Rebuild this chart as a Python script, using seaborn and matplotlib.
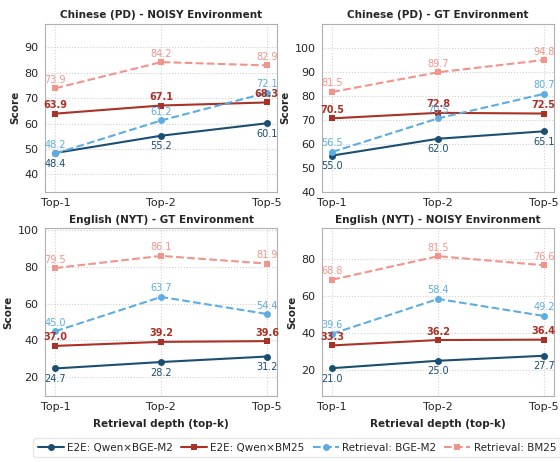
import matplotlib
matplotlib.use("Agg")
from matplotlib import pyplot as plt
import seaborn as sns
import pandas as pd

sns.set_style("whitegrid")
plt.rcParams['font.family'] = ['DejaVu Sans']

depths = ["Top-1", "Top-2", "Top-5"]
titles = [
    "Chinese (PD) - NOISY Environment",
    "Chinese (PD) - GT Environment",
    "English (NYT) - GT Environment",
    "English (NYT) - NOISY Environment",
]
series_names = [
    "E2E: Qwen×BGE-M2",
    "E2E: Qwen×BM25",
    "Retrieval: BGE-M2",
    "Retrieval: BM25",
]

# values per panel, in the order of series_names
zh_noisy = [[48.4, 55.2, 60.1], [63.9, 67.1, 68.3], [48.2, 61.2, 72.1], [73.9, 84.2, 82.9]]
zh_gt = [[55.0, 62.0, 65.1], [70.5, 72.8, 72.5], [56.5, 70.5, 80.7], [81.5, 89.7, 94.8]]
en_gt = [[24.7, 28.2, 31.2], [37.0, 39.2, 39.6], [45.0, 63.7, 54.4], [79.5, 86.1, 81.9]]
en_noisy = [[21.0, 25.0, 27.7], [33.3, 36.2, 36.4], [39.6, 58.4, 49.2], [68.8, 81.5, 76.6]]
panels = [zh_noisy, zh_gt, en_gt, en_noisy]

colors = ["#1b4f72", "#a93226", "#5dade2", "#f1948a"]
markers = ["o", "s", "o", "s"]
dashed = [False, False, True, True]

fig, axes = plt.subplots(2, 2, figsize=(5.6, 4.62), dpi=100)
fig.subplots_adjust(left=0.08, right=0.99, top=0.948, bottom=0.143,
                    wspace=0.19, hspace=0.22)

for k, ax in enumerate(axes.flat):
    data = panels[k]
    allv = [v for s in data for v in s]
    for i, name in enumerate(series_names):
        df = pd.DataFrame({"x": range(len(depths)), "y": data[i]})
        sns.lineplot(data=df, x="x", y="y", ax=ax, color=colors[i],
                     marker=markers[i], markersize=5, linewidth=1.5,
                     markeredgewidth=0, label=name,
                     linestyle="--" if dashed[i] else "-", legend=False)
        for xi, v in enumerate(data[i]):
            if i == 0:
                ax.annotate(f"{v:.1f}", (xi, v), xytext=(0, -4), textcoords="offset points",
                            ha="center", va="top", fontsize=7, color=colors[i])
            else:
                ax.annotate(f"{v:.1f}", (xi, v), xytext=(0, 2.5), textcoords="offset points",
                            ha="center", va="bottom", fontsize=7, color=colors[i],
                            fontweight="bold" if i == 1 else "normal")
    ax.set_xlim(-0.1, 2.1)
    ax.set_ylim(min(allv) - 15, max(allv) + 15)
    ax.set_xticks(range(len(depths)))
    ax.set_xticklabels(depths)
    ax.set_title(titles[k], fontsize=7.5, fontweight="bold", pad=4)
    ax.set_ylabel("Score", fontsize=7.5, fontweight="bold", labelpad=3)
    ax.set_xlabel("Retrieval depth (top-k)" if k >= 2 else "", fontsize=7.5,
                  fontweight="bold", labelpad=5)
    ax.tick_params(axis="both", labelsize=8, pad=1)
    ax.grid(True, linestyle=":", color="#d0d0d0", linewidth=0.8)
    for sp in ax.spines.values():
        sp.set_color("#b0b0b0")

axes[1, 0].set_yticks([20, 40, 60, 80, 100])
axes[1, 1].set_yticks([20, 40, 60, 80])

handles, labels = axes[0, 0].get_legend_handles_labels()
leg = fig.legend(handles, labels, loc="lower center", bbox_to_anchor=(0.53, 0.0),
                 ncol=4, fontsize=7.5, frameon=True, handlelength=2.5,
                 columnspacing=0.8, handletextpad=0.3)
leg.get_frame().set_edgecolor("#e0e0e0")

fig.savefig("out.png", dpi=100)
